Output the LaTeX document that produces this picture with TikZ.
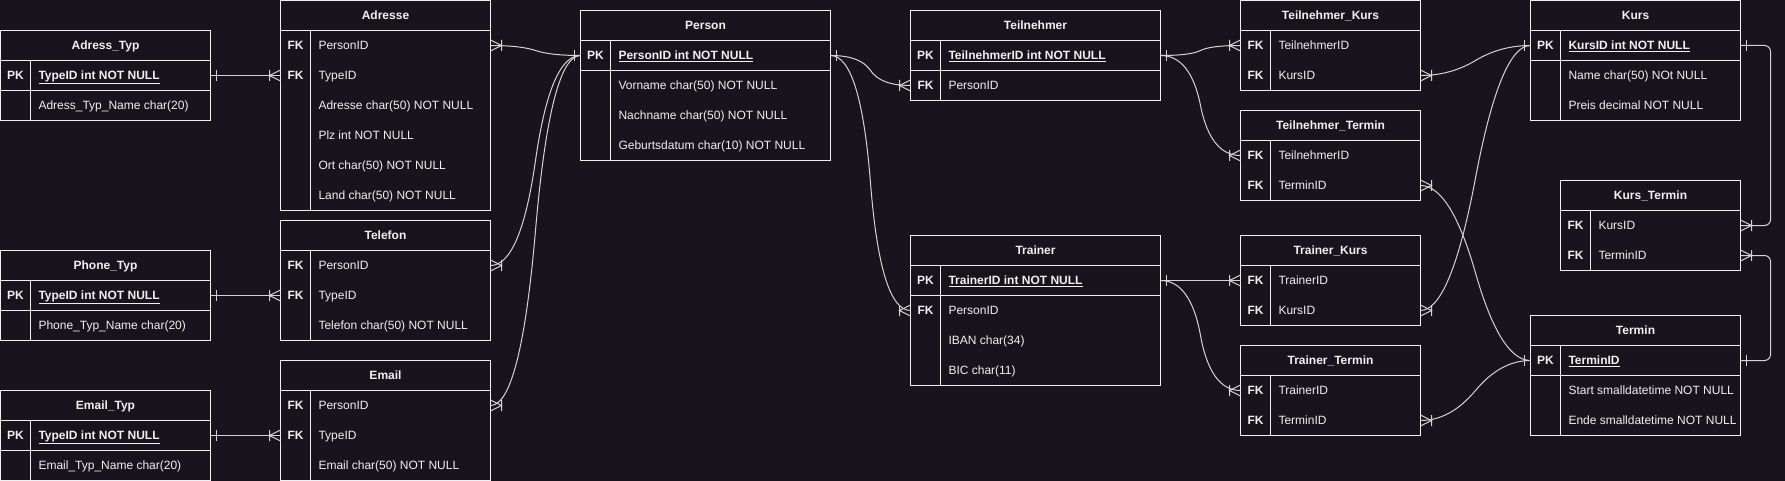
\documentclass[tikz,border=0pt]{standalone}
\usepackage{fontspec}
\setmainfont{Liberation Sans}
\usetikzlibrary{calc}
\definecolor{bg}{HTML}{18141D}
\definecolor{fg}{HTML}{F0F0F0}
\definecolor{ln}{HTML}{D4D4D4}
\tikzset{
  tabbox/.style={draw=fg, line width=1pt, anchor=north west, inner sep=0pt, outer sep=0pt},
  rowbox/.style={anchor=north west, inner sep=0pt, outer sep=0pt, minimum height=30pt},
  titletext/.style={text=fg, font=\fontsize{12}{14}\selectfont\bfseries, inner sep=0pt, text height=8.6pt, text depth=0pt},
  keytext/.style={text=fg, font=\fontsize{12}{14}\selectfont\bfseries, inner sep=0pt, text height=8.6pt, text depth=0pt},
  fieldtext/.style={text=fg, font=\fontsize{12}{14}\selectfont, inner sep=0pt, anchor=west, text height=8.6pt, text depth=0pt},
  pktext/.style={fieldtext, font=\fontsize{12}{14}\selectfont\bfseries},
  conn/.style={draw=ln, line width=1pt},
  sep/.style={draw=fg, line width=1pt},
}
\newcommand\ertable[6]{%
  \gdef\tn{#1}\gdef\tx{#2}\gdef\ty{#3}\gdef\tw{#4}%
  \node[tabbox, minimum width=#4*1pt, minimum height={(#5+1)*30pt}] (#1) at (#2,#3) {};
  \node[titletext] (#1-t) at ({#2+#4/2},{#3+15}) {#6};
  \draw[sep] (#2,{#3+30}) -- ({#2+#4},{#3+30});
  \draw[sep] ({#2+30},{#3+30}) -- ({#2+30},{#3+(#5+1)*30});
}
\newcommand\erow[4]{%
  \node[rowbox, minimum width=\tw*1pt] (\tn-#1) at (\tx,{\ty+#1*30}) {};
  \node[keytext] (\tn-#1-k) at ({\tx+15},{\ty+#1*30+15}) {#2};
  \node[#4] (\tn-#1-f) at ({\tx+37.8},{\ty+#1*30+15}) {#3};
}
\newcommand\ersep{\draw[sep] (\tx,{\ty+60}) -- ({\tx+\tw},{\ty+60});}
\newcommand\erlink[2]{%
  \draw[conn] let \p1=(#1), \p2=(#2), \p3=({(\x1+\x2)/2},{(\y1+\y2)/2}) in
    (\p1) .. controls ({\x1+20pt},\y1) and ({\x3+2/3*(\x1+30pt-\x3)},{\y3+2/3*(\y1-\y3)}) .. (\p3)
          .. controls ({\x3+2/3*(\x2-30pt-\x3)},{\y3+2/3*(\y2-\y3)}) and ({\x2-20pt},\y2) .. (\p2);
}
\newcommand\erone[2]{%
  \draw[conn] let \p1=(#1) in ({\x1+(#2)*6pt},{\y1-5.5pt}) -- ({\x1+(#2)*6pt},{\y1+5.5pt});
}
\newcommand\ermany[2]{%
  \draw[conn] let \p1=(#1) in ({\x1+(#2)*11pt},{\y1-5.5pt}) -- ({\x1+(#2)*11pt},{\y1+5.5pt})
     (\x1,{\y1+5.5pt}) -- ({\x1+(#2)*11pt},\y1) -- (\x1,{\y1-5.5pt});
}
\begin{document}
\begin{tikzpicture}[x=1pt, y=-1pt]
\useasboundingbox (0,0) rectangle (1785,481);
\fill[bg] (0,0) rectangle (1785,481);

% ---------- tables ----------
\ertable{adrtyp}{0.5}{30.5}{210}{2}{Adress\_Typ}
\erow{1}{PK}{\underline{TypeID int NOT NULL}}{pktext}
\erow{2}{}{Adress\_Typ\_Name char(20)}{fieldtext}
\ersep

\ertable{adr}{280.5}{0.5}{210}{6}{Adresse}
\erow{1}{FK}{PersonID}{fieldtext}
\erow{2}{FK}{TypeID}{fieldtext}
\erow{3}{}{Adresse char(50) NOT NULL}{fieldtext}
\erow{4}{}{Plz int NOT NULL}{fieldtext}
\erow{5}{}{Ort char(50) NOT NULL}{fieldtext}
\erow{6}{}{Land char(50) NOT NULL}{fieldtext}

\ertable{phtyp}{0.5}{250.5}{210}{2}{Phone\_Typ}
\erow{1}{PK}{\underline{TypeID int NOT NULL}}{pktext}
\erow{2}{}{Phone\_Typ\_Name char(20)}{fieldtext}
\ersep

\ertable{tel}{280.5}{220.5}{210}{3}{Telefon}
\erow{1}{FK}{PersonID}{fieldtext}
\erow{2}{FK}{TypeID}{fieldtext}
\erow{3}{}{Telefon char(50) NOT NULL}{fieldtext}

\ertable{emtyp}{0.5}{390.5}{210}{2}{Email\_Typ}
\erow{1}{PK}{\underline{TypeID int NOT NULL}}{pktext}
\erow{2}{}{Email\_Typ\_Name char(20)}{fieldtext}
\ersep

\ertable{em}{280.5}{360.5}{210}{3}{Email}
\erow{1}{FK}{PersonID}{fieldtext}
\erow{2}{FK}{TypeID}{fieldtext}
\erow{3}{}{Email char(50) NOT NULL}{fieldtext}

\ertable{pers}{580.5}{10.5}{250}{4}{Person}
\erow{1}{PK}{\underline{PersonID int NOT NULL}}{pktext}
\erow{2}{}{Vorname char(50) NOT NULL}{fieldtext}
\erow{3}{}{Nachname char(50) NOT NULL}{fieldtext}
\erow{4}{}{Geburtsdatum char(10) NOT NULL}{fieldtext}
\ersep

\ertable{tn}{910.5}{10.5}{250}{2}{Teilnehmer}
\erow{1}{PK}{\underline{TeilnehmerID int NOT NULL}}{pktext}
\erow{2}{FK}{PersonID}{fieldtext}
\ersep

\ertable{tr}{910.5}{235.5}{250}{4}{Trainer}
\erow{1}{PK}{\underline{TrainerID int NOT NULL}}{pktext}
\erow{2}{FK}{PersonID}{fieldtext}
\erow{3}{}{IBAN char(34)}{fieldtext}
\erow{4}{}{BIC char(11)}{fieldtext}
\ersep

\ertable{tk}{1240.5}{0.5}{180}{2}{Teilnehmer\_Kurs}
\erow{1}{FK}{TeilnehmerID}{fieldtext}
\erow{2}{FK}{KursID}{fieldtext}

\ertable{tt}{1240.5}{110.5}{180}{2}{Teilnehmer\_Termin}
\erow{1}{FK}{TeilnehmerID}{fieldtext}
\erow{2}{FK}{TerminID}{fieldtext}

\ertable{trk}{1240.5}{235.5}{180}{2}{Trainer\_Kurs}
\erow{1}{FK}{TrainerID}{fieldtext}
\erow{2}{FK}{KursID}{fieldtext}

\ertable{trt}{1240.5}{345.5}{180}{2}{Trainer\_Termin}
\erow{1}{FK}{TrainerID}{fieldtext}
\erow{2}{FK}{TerminID}{fieldtext}

\ertable{kurs}{1530.5}{0.5}{210}{3}{Kurs}
\erow{1}{PK}{\underline{KursID int NOT NULL}}{pktext}
\erow{2}{}{Name char(50) NOt NULL}{fieldtext}
\erow{3}{}{Preis decimal NOT NULL}{fieldtext}
\ersep

\ertable{kt}{1560.5}{180.5}{180}{2}{Kurs\_Termin}
\erow{1}{FK}{KursID}{fieldtext}
\erow{2}{FK}{TerminID}{fieldtext}

\ertable{term}{1530.5}{315.5}{210}{3}{Termin}
\erow{1}{PK}{\underline{TerminID}}{pktext}
\erow{2}{}{Start smalldatetime NOT NULL}{fieldtext}
\erow{3}{}{Ende smalldatetime NOT NULL}{fieldtext}
\ersep

% ---------- connectors ----------
\erlink{adrtyp-1.east}{adr-2.west}\erone{adrtyp-1.east}{1}\ermany{adr-2.west}{-1}
\erlink{phtyp-1.east}{tel-2.west}\erone{phtyp-1.east}{1}\ermany{tel-2.west}{-1}
\erlink{emtyp-1.east}{em-2.west}\erone{emtyp-1.east}{1}\ermany{em-2.west}{-1}

\erlink{adr-1.east}{pers-1.west}\ermany{adr-1.east}{1}
\erlink{tel-1.east}{pers-1.west}\ermany{tel-1.east}{1}
\erlink{em-1.east}{pers-1.west}\ermany{em-1.east}{1}
\erone{pers-1.west}{-1}

\erlink{pers-1.east}{tn-2.west}\ermany{tn-2.west}{-1}
\erlink{pers-1.east}{tr-2.west}\ermany{tr-2.west}{-1}
\erone{pers-1.east}{1}

\erlink{tn-1.east}{tk-1.west}\ermany{tk-1.west}{-1}
\erlink{tn-1.east}{tt-1.west}\ermany{tt-1.west}{-1}
\erone{tn-1.east}{1}

\erlink{tr-1.east}{trk-1.west}\ermany{trk-1.west}{-1}
\erlink{tr-1.east}{trt-1.west}\ermany{trt-1.west}{-1}
\erone{tr-1.east}{1}

\erlink{tk-2.east}{kurs-1.west}\ermany{tk-2.east}{1}
\erlink{trk-2.east}{kurs-1.west}\ermany{trk-2.east}{1}
\erone{kurs-1.west}{-1}

\erlink{tt-2.east}{term-1.west}\ermany{tt-2.east}{1}
\erlink{trt-2.east}{term-1.west}\ermany{trt-2.east}{1}
\erone{term-1.west}{-1}

\draw[conn, rounded corners=6pt] (kurs-1.east) -- ++(30,0) |- (kt-1.east);
\erone{kurs-1.east}{1}\ermany{kt-1.east}{1}
\draw[conn, rounded corners=6pt] (kt-2.east) -- ++(30,0) |- (term-1.east);
\ermany{kt-2.east}{1}\erone{term-1.east}{1}
\end{tikzpicture}
\end{document}
